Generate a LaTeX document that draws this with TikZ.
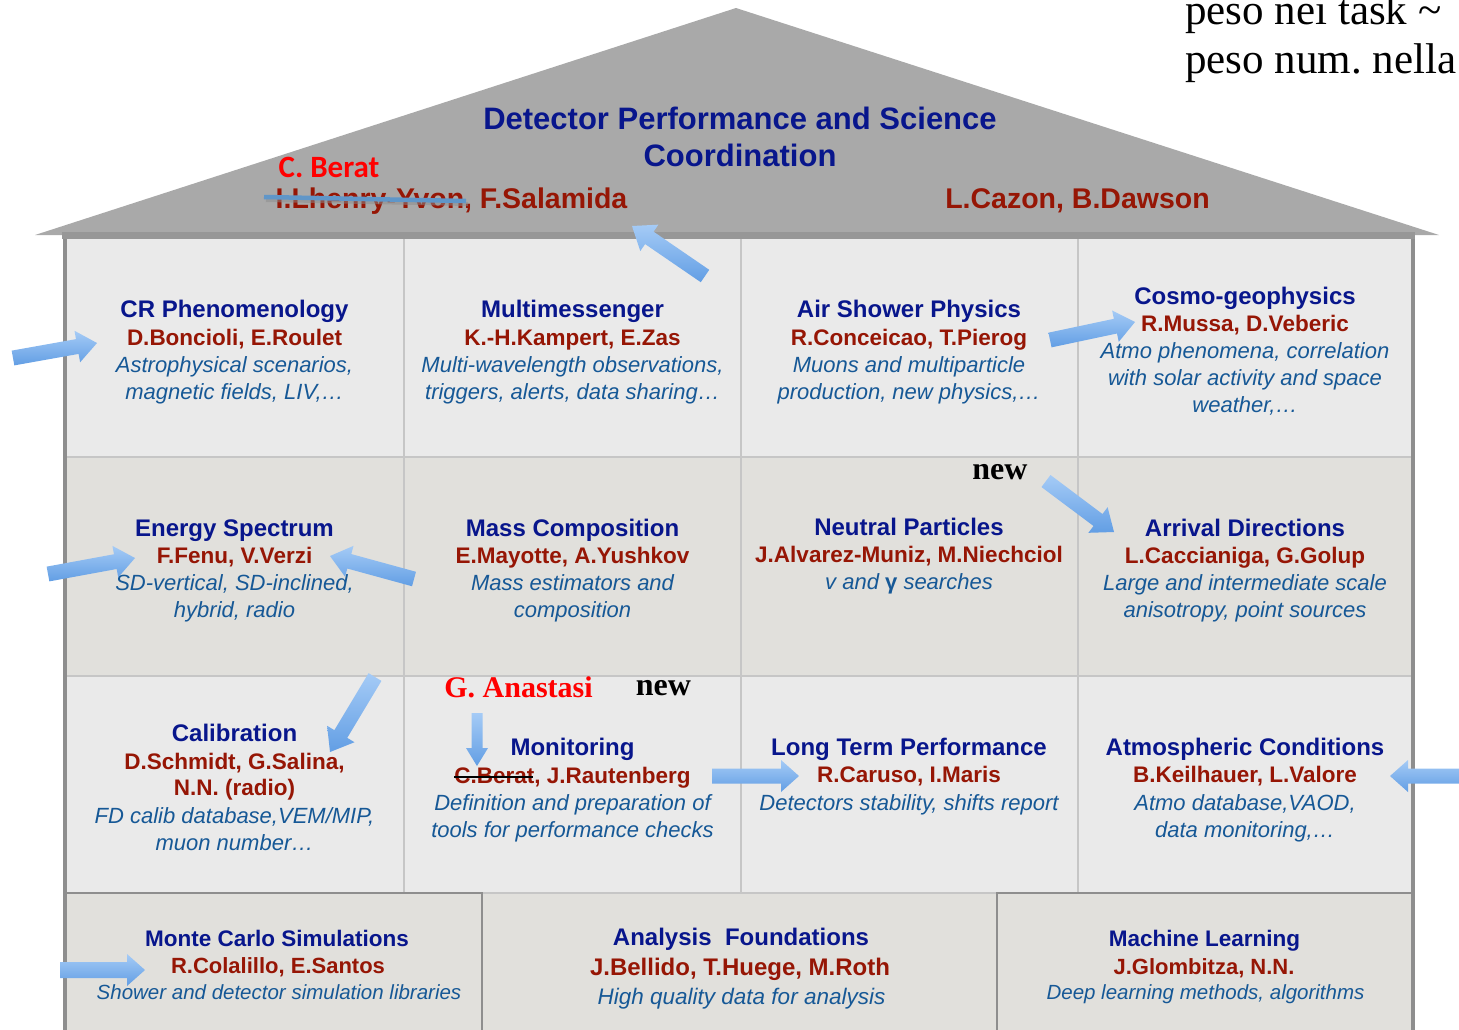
\documentclass[tikz,border=0pt]{standalone}
\usepackage{fontspec}
\setmainfont{Liberation Sans}
\newfontfamily\timesfont{Liberation Serif}
\newfontfamily\carlito{Carlito}
\usetikzlibrary{calc}
\frenchspacing

\definecolor{roofgray}{HTML}{A9A9A9}
\definecolor{eavegray}{HTML}{979797}
\definecolor{wallgray}{HTML}{8E8E8E}
\definecolor{gridgray}{HTML}{C6C6C6}
\definecolor{celllight}{HTML}{EAEAEA}
\definecolor{cellwarm}{HTML}{E1E0DC}
\definecolor{ttlblue}{RGB}{8,22,140}
\definecolor{nmred}{RGB}{150,22,5}
\definecolor{dscblue}{RGB}{22,88,150}
\definecolor{arrowtop}{RGB}{165,203,246}
\definecolor{arrowbot}{RGB}{98,158,228}
\definecolor{strikeblue}{RGB}{96,150,200}

\tikzset{
	rooftitle/.style={font=\bfseries\fontsize{31}{37}\selectfont, text=ttlblue, align=center, inner sep=0pt, anchor=base},
	roofnames/.style={font=\bfseries\fontsize{28.5}{30}\selectfont, text=nmred, inner sep=0pt, anchor=base},
	ttl/.style={font=\bfseries\fontsize{24}{28}\selectfont, text=ttlblue, inner sep=0pt, anchor=base},
	nms/.style={font=\bfseries\fontsize{22.5}{26}\selectfont, text=nmred, align=center, inner sep=0pt, anchor=base},
	dsc/.style={font=\itshape\fontsize{22}{27}\selectfont, text=dscblue, align=center, inner sep=0pt, anchor=base},
	newtag/.style={font=\timesfont\bfseries\fontsize{32}{32}\selectfont, inner sep=0pt, anchor=base},
	pesonote/.style={font=\timesfont\fontsize{43}{50}\selectfont, inner sep=0pt, anchor=base west},
	fatarrow/.style={top color=arrowtop, bottom color=arrowbot, draw=none},
}

% one work package: name, x, title baseline, title,
% offset of last conveners line, conveners, offset of last description line, description
\newcommand{\workpkg}[8]{
	\node[ttl] (#1) at (#2,#3) {#4};
	\node[nms] (#1-names) at (#2,#3+#5) {#6};
	\node[dsc] (#1-desc) at (#2,#3+#7) {#8};
}

% block arrow: tail, tip, half shaft, half head, head length
\newcommand{\blockarrow}[5]{
	\path[fatarrow] let \p1=(#1), \p2=(#2), \n1={atan2(\y2-\y1,\x2-\x1)} in
		($(\p1)+(\n1+90:#3pt)$) -- ($(\p2)+(\n1+180:#5pt)+(\n1+90:#3pt)$)
		-- ($(\p2)+(\n1+180:#5pt)+(\n1+90:#4pt)$) -- (\p2)
		-- ($(\p2)+(\n1+180:#5pt)+(\n1-90:#4pt)$) -- ($(\p2)+(\n1+180:#5pt)+(\n1-90:#3pt)$)
		-- ($(\p1)+(\n1-90:#3pt)$) -- cycle;
}

\begin{document}
\begin{tikzpicture}[x=1pt,y=-1pt]
	\useasboundingbox (0,0) rectangle (1459,1029);
	\clip (0,0) rectangle (1459,1029);

	% rows of the house
	\fill[celllight] (65,238) rectangle (1412,457);
	\fill[cellwarm] (65,457) rectangle (1412,676);
	\fill[celllight] (65,676) rectangle (1412,893);
	\fill[cellwarm] (65,893) rectangle (1412,1040);

	\foreach \x in {404,741,1078}
		\draw[gridgray, line width=1.3] (\x,238) -- (\x,893);
	\foreach \y in {457,676}
		\draw[gridgray, line width=1.6] (65,\y) -- (1412,\y);
	\draw[gridgray, line width=1.6] (482,893) -- (997,893);

	% basement
	\draw[wallgray, line width=2] (65,893) rectangle (482,1045);
	\draw[wallgray, line width=2] (997,893) rectangle (1412,1045);

	% walls and roof
	\draw[wallgray, line width=4] (65,236) -- (65,1045);
	\draw[wallgray, line width=4] (1413,236) -- (1413,1045);
	\fill[roofgray] (35,235) -- (736,8) -- (1439,235) -- cycle;
	\fill[eavegray] (62,232) rectangle (1415,239);

	\node[rooftitle] (dpsc) at (740,166) {Detector Performance and Science\\Coordination};
	\node[roofnames] (coordL) at (451.5,208) {I.Lhenry-Yvon, F.Salamida};
	\node[roofnames] (coordR) at (1077.5,208) {L.Cazon, B.Dawson};
	\node[font=\carlito\bfseries\fontsize{31}{31}\selectfont, text=red, inner sep=0pt, anchor=base] (berat) at (329,177) {C. Berat};
	\draw[black!45, opacity=0.5, line width=4] (266,200) -- (468,204);
	\draw[strikeblue, line width=4.5] (264,197) -- (466,201);

	% first floor
	\workpkg{crph}{234.5}{317}{CR Phenomenology}{28}{D.Boncioli, E.Roulet}{82}{Astrophysical scenarios,\\magnetic fields, LIV,…}
	\workpkg{multi}{572.5}{317}{Multimessenger}{28}{K.-H.Kampert, E.Zas}{82}{Multi-wavelength observations,\\triggers, alerts, data sharing…}
	\workpkg{airsh}{909}{317}{Air Shower Physics}{28}{R.Conceicao, T.Pierog}{82}{Muons and multiparticle\\production, new physics,…}
	\workpkg{cosmo}{1245}{304}{Cosmo-geophysics}{27}{R.Mussa, D.Veberic}{108}{Atmo phenomena, correlation\\with solar activity and space\\weather,…}

	% second floor
	\workpkg{espec}{234.5}{536}{Energy Spectrum}{27}{F.Fenu, V.Verzi}{81}{SD-vertical, SD-inclined,\\hybrid, radio}
	\workpkg{mass}{572.5}{536}{Mass Composition}{27}{E.Mayotte, A.Yushkov}{81}{Mass estimators and\\composition}
	\workpkg{neutral}{909}{535}{Neutral Particles}{27}{J.Alvarez-Muniz, M.Niechciol}{54}{v and {\upshape\bfseries γ} searches}
	\workpkg{arrival}{1245}{536}{Arrival Directions}{27}{L.Caccianiga, G.Golup}{81}{Large and intermediate scale\\anisotropy, point sources}

	% third floor
	\workpkg{calib}{234.5}{741}{Calibration}{54}{D.Schmidt, G.Salina,\\N.N. (radio)}{109}{FD calib database,VEM/MIP,\\muon number…}
	\workpkg{monit}{572.5}{755}{Monitoring}{28}{C.Berat, J.Rautenberg}{82}{Definition and preparation of\\tools for performance checks}
	\workpkg{longt}{909}{755}{Long Term Performance}{27}{R.Caruso, I.Maris}{55}{Detectors stability, shifts report}
	\workpkg{atmo}{1245}{755}{Atmospheric Conditions}{27}{B.Keilhauer, L.Valore}{82}{Atmo database,VAOD,\\data monitoring,…}
	\draw[black, line width=2.5] (454,777) -- (533,777);

	% basement
	\node[ttl, font=\bfseries\fontsize{22.5}{26}\selectfont] (mcsim) at (277,946) {Monte Carlo Simulations};
	\node[nms, font=\bfseries\fontsize{22}{26}\selectfont] (mcsim-names) at (278,973) {R.Colalillo, E.Santos};
	\node[dsc, font=\itshape\fontsize{20.5}{25}\selectfont] (mcsim-desc) at (279,999) {Shower and detector simulation libraries};
	\node[ttl] (anaf) at (741,945) {Analysis\ \ Foundations};
	\node[nms, font=\bfseries\fontsize{24}{28}\selectfont] (anaf-names) at (740,975) {J.Bellido, T.Huege, M.Roth};
	\node[dsc, font=\itshape\fontsize{22.5}{27}\selectfont] (anaf-desc) at (741.5,1004) {High quality data for analysis};
	\node[ttl, font=\bfseries\fontsize{22.5}{26}\selectfont] (mlearn) at (1204.5,946) {Machine Learning};
	\node[nms, font=\bfseries\fontsize{22}{26}\selectfont] (mlearn-names) at (1204,974) {J.Glombitza, N.N.};
	\node[dsc, font=\itshape\fontsize{20.5}{25}\selectfont] (mlearn-desc) at (1205.5,999) {Deep learning methods, algorithms};

	% notes
	\node[font=\timesfont\bfseries\fontsize{30}{30}\selectfont, text=red, inner sep=0pt, anchor=base] (anast) at (518.5,697) {G. Anastasi};
	\node[newtag] (new1) at (1000,479) {new};
	\node[newtag] (new2) at (663.5,695) {new};
	\node[pesonote] (peso1) at (1185,24) {peso nei task \textasciitilde};
	\node[pesonote] (peso2) at (1185,73) {peso num. nella};

	% arrows
	\coordinate (upT) at (705,276);   \coordinate (upH) at (632,226);
	\coordinate (crT) at (13,358);    \coordinate (crH) at (97,343);
	\coordinate (asT) at (1050,340);  \coordinate (asH) at (1135,322);
	\coordinate (esT) at (48,574);    \coordinate (esH) at (135,558);
	\coordinate (masT) at (414,579);  \coordinate (masH) at (330,556);
	\coordinate (adT) at (1046,481);  \coordinate (adH) at (1114,532);
	\coordinate (caT) at (375,677);   \coordinate (caH) at (330,752);
	\coordinate (moT) at (477,713);   \coordinate (moH) at (477,766);
	\coordinate (ltT) at (712,776);   \coordinate (ltH) at (799,776);
	\coordinate (acT) at (1470,776);  \coordinate (acH) at (1390,776);
	\coordinate (msT) at (60,970);    \coordinate (msH) at (145,970);

	\blockarrow{upT}{upH}{7.5}{16}{21}
	\blockarrow{crT}{crH}{7.5}{16}{20}
	\blockarrow{asT}{asH}{7.5}{16}{20}
	\blockarrow{esT}{esH}{7.5}{16}{20}
	\blockarrow{masT}{masH}{7.5}{16}{20}
	\blockarrow{adT}{adH}{7.5}{16}{20}
	\blockarrow{caT}{caH}{7.5}{16}{21}
	\blockarrow{moT}{moH}{5.5}{11}{18}
	\blockarrow{ltT}{ltH}{7.5}{16}{18}
	\blockarrow{acT}{acH}{7.5}{16}{18}
	\blockarrow{msT}{msH}{8}{16}{18}
\end{tikzpicture}
\end{document}
